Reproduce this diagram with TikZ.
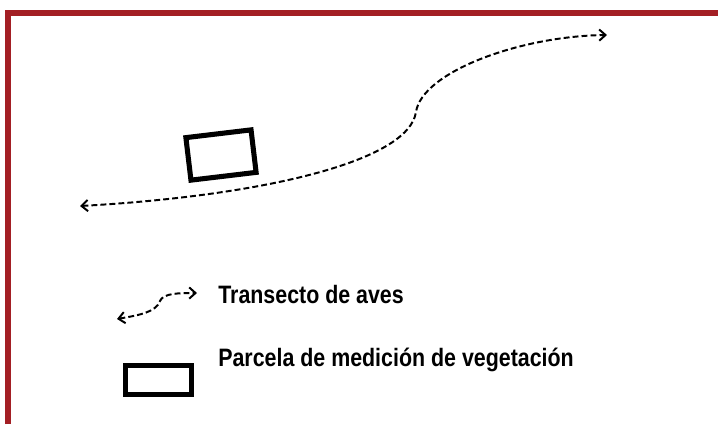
\documentclass[tikz,border=0pt]{standalone}
\usepackage{fontspec}
\setmainfont{Liberation Sans}[FakeStretch=0.85]
\usetikzlibrary{arrows.meta}
\definecolor{framered}{RGB}{163,31,36}

\begin{document}
\begin{tikzpicture}[x=0.025cm, y=-0.025cm,
		frame/.style={draw=framered, line width=4.3pt, line join=miter},
		transect/.style={dashed, dash pattern=on 4.2pt off 2.2pt, line width=1.4pt, {Straight Barb[length=4.5pt,width=8pt]}-{Straight Barb[length=4.5pt,width=8pt]}},
		plotbox/.style={rectangle, draw, line width=3.6pt, inner sep=0pt},
		keytext/.style={anchor=base west, inner sep=0pt, font=\fontsize{17.9}{20}\selectfont\bfseries}]
		\useasboundingbox (0, 0) rectangle (718, 424);

		% frame
		\draw[frame] (8, 424) -- (8, 13) -- (718, 13);

		% transect and plot
		\coordinate (tstart) at (80, 206);
		\coordinate (tbend) at (416, 112);
		\coordinate (tend) at (607, 35);
		\node[plotbox, minimum width=1.64cm, minimum height=1.07cm, rotate=6.8] (plot) at (221, 155) {};
		\draw[transect] (tstart) .. controls (260, 196) and (408.5, 162) .. (tbend) .. controls (422, 72) and (520, 36) .. (tend);

		% legend
		\coordinate (kstart) at (117, 319);
		\coordinate (kbend) at (160, 301);
		\coordinate (kend) at (197, 293);
		\draw[transect] (kstart) .. controls (140, 315) and (156, 312) .. (kbend) .. controls (163, 293) and (180, 293) .. (kend);
		\node[keytext] (keytrans) at (218, 303) {Transecto de aves};

		\node[plotbox, minimum width=1.65cm, minimum height=0.725cm] (plotkey) at (158.5, 380) {};
		\node[keytext] (keyplot) at (218, 366) {Parcela de medición de vegetación};
	\end{tikzpicture}
\end{document}
